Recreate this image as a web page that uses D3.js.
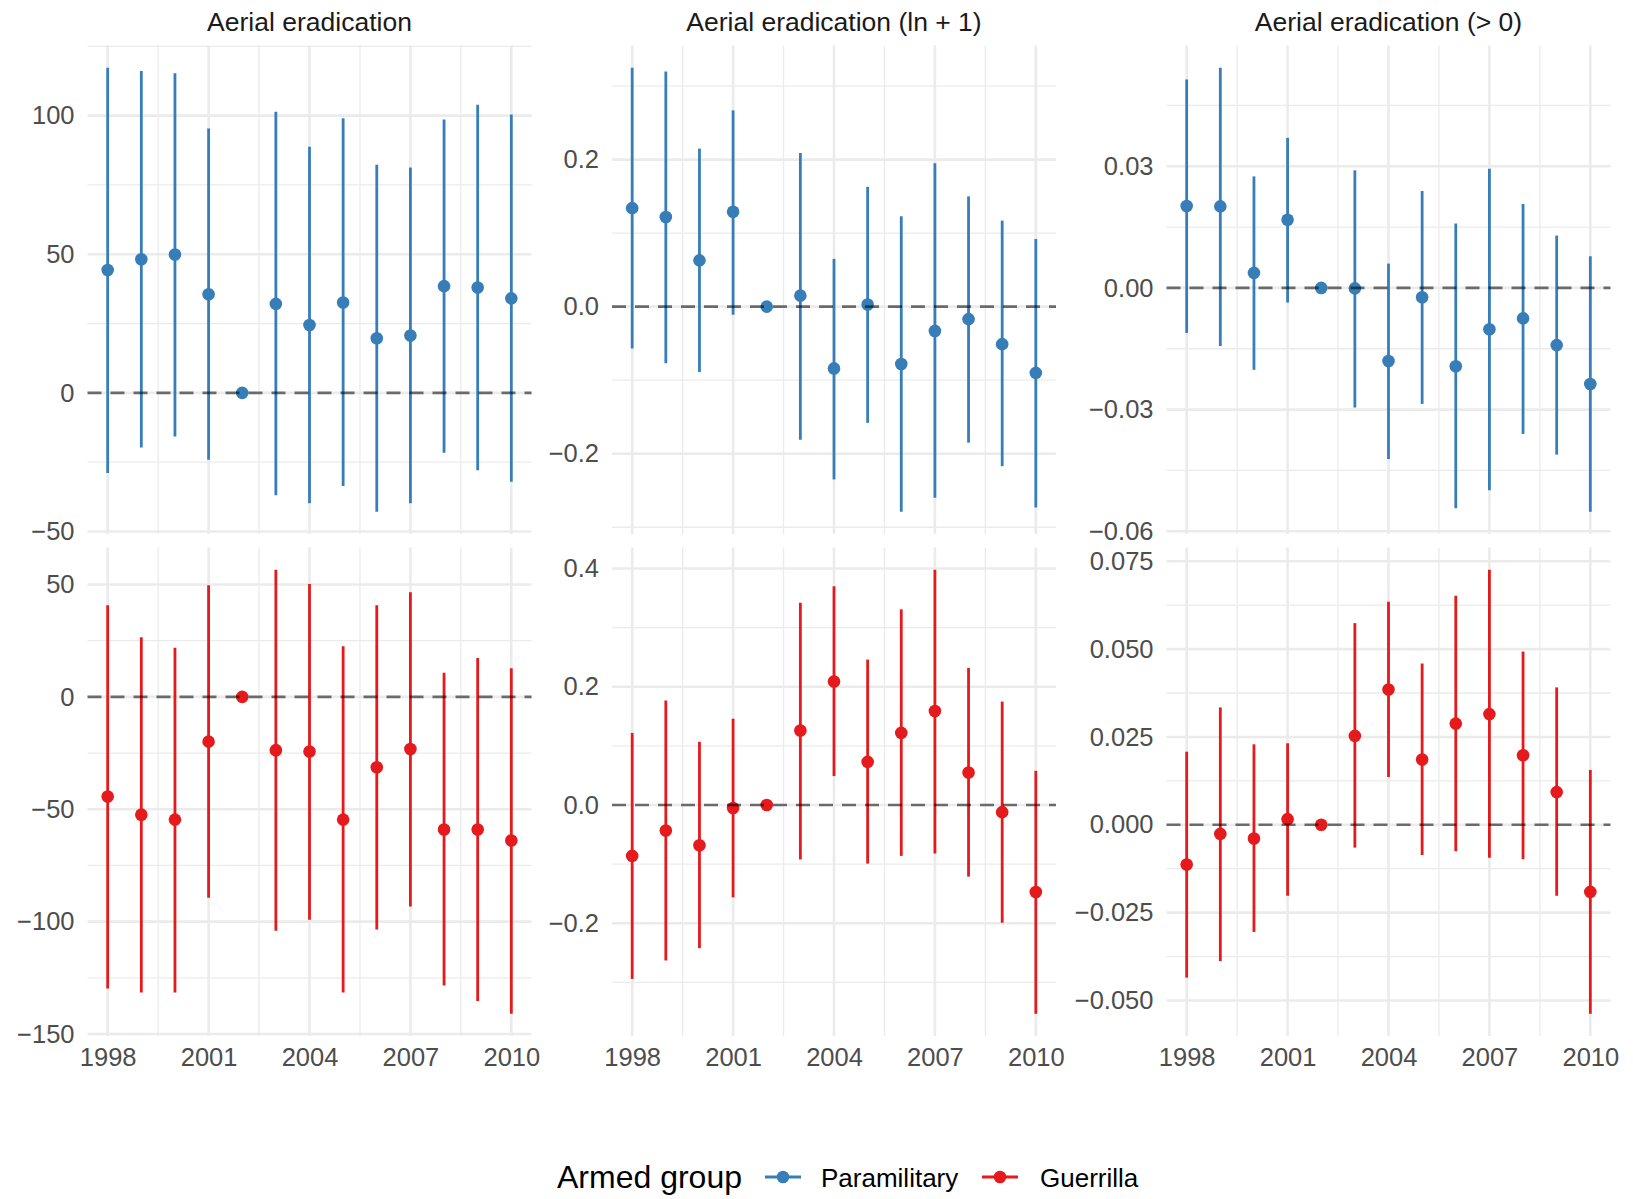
<!DOCTYPE html>
<html>
<head>
<meta charset="utf-8">
<script src="https://cdn.jsdelivr.net/npm/d3@7"></script>
<style>
  body { margin: 0; background: #fff; }
  text { font-family: "Liberation Sans", Arial, sans-serif; }
</style>
</head>
<body>
<svg id="chart" width="1633" height="1199"></svg>
<script>
var years = [1998, 1999, 2000, 2001, 2002, 2003, 2004, 2005, 2006, 2007, 2008, 2009, 2010];
var xTicks = [1998, 2001, 2004, 2007, 2010];
var outcomes = ["Aerial eradication", "Aerial eradication (ln + 1)", "Aerial eradication (> 0)"];
var groups = ["Paramilitary", "Guerrilla"];
var groupColors = ["#377eb8", "#e41a1c"];

// Paramilitary, levels
var paraLevEst = [44.3, 48.2, 49.9, 35.6, 0, 32.1, 24.5, 32.6, 19.7, 20.7, 38.5, 38.0, 34.1];
var paraLevLo  = [-28.9, -19.7, -15.7, -24.1, 0, -36.9, -39.8, -33.6, -42.9, -39.8, -21.6, -27.9, -32.1];
var paraLevHi  = [117.3, 116.1, 115.3, 95.4, 0, 101.4, 88.8, 99.1, 82.3, 81.3, 98.6, 103.9, 100.4];
// Paramilitary, ln + 1
var paraLnEst = [0.134, 0.122, 0.063, 0.129, 0, 0.015, -0.084, 0.003, -0.078, -0.033, -0.017, -0.051, -0.090];
var paraLnLo  = [-0.057, -0.077, -0.089, -0.011, 0, -0.181, -0.235, -0.158, -0.279, -0.260, -0.185, -0.217, -0.273];
var paraLnHi  = [0.325, 0.320, 0.215, 0.267, 0, 0.209, 0.065, 0.163, 0.123, 0.195, 0.150, 0.117, 0.092];
// Paramilitary, > 0
var paraAnyEst = [0.0202, 0.0201, 0.0037, 0.0168, 0, -0.0001, -0.0180, -0.0023, -0.0193, -0.0102, -0.0075, -0.0141, -0.0237];
var paraAnyLo  = [-0.0111, -0.0143, -0.0202, -0.0036, 0, -0.0295, -0.0422, -0.0286, -0.0543, -0.0499, -0.0360, -0.0411, -0.0552];
var paraAnyHi  = [0.0514, 0.0543, 0.0275, 0.0370, 0, 0.0290, 0.0060, 0.0239, 0.0159, 0.0294, 0.0207, 0.0129, 0.0078];

// Guerrilla, levels
var guerLevEst = [-44.3, -52.4, -54.6, -19.9, 0, -23.7, -24.3, -54.6, -31.3, -23.2, -59.0, -59.0, -63.9];
var guerLevLo  = [-129.7, -131.5, -131.5, -89.4, 0, -104.0, -99.1, -131.5, -103.5, -93.3, -128.4, -135.3, -141.0];
var guerLevHi  = [40.8, 26.5, 21.9, 49.7, 0, 56.6, 50.2, 22.5, 40.8, 46.6, 10.7, 17.3, 12.7];
// Guerrilla, ln + 1
var guerLnEst = [-0.086, -0.043, -0.068, -0.005, 0, 0.126, 0.209, 0.073, 0.122, 0.159, 0.055, -0.012, -0.147];
var guerLnLo  = [-0.294, -0.263, -0.242, -0.156, 0, -0.092, 0.049, -0.099, -0.086, -0.082, -0.121, -0.199, -0.353];
var guerLnHi  = [0.122, 0.177, 0.107, 0.146, 0, 0.342, 0.370, 0.246, 0.331, 0.398, 0.232, 0.175, 0.058];
// Guerrilla, > 0
var guerAnyEst = [-0.0113, -0.0026, -0.0039, 0.0016, 0, 0.0253, 0.0385, 0.0186, 0.0288, 0.0315, 0.0198, 0.0093, -0.0191];
var guerAnyLo  = [-0.0435, -0.0388, -0.0305, -0.0202, 0, -0.0065, 0.0136, -0.0086, -0.0075, -0.0094, -0.0098, -0.0202, -0.0538];
var guerAnyHi  = [0.0208, 0.0334, 0.0229, 0.0232, 0, 0.0574, 0.0635, 0.0459, 0.0652, 0.0726, 0.0493, 0.0391, 0.0156];

// y tick labels per panel (row-major: paramilitary row, then guerrilla row)
var yTicks = [
  [-50, 0, 50, 100], [-0.2, 0, 0.2], [-0.06, -0.03, 0, 0.03],
  [-150, -100, -50, 0, 50], [-0.2, 0, 0.2, 0.4], [-0.05, -0.025, 0, 0.025, 0.05, 0.075]
];
var yDecimals = [0, 1, 2, 0, 1, 3];

var panelData = [
  [paraLevEst, paraLevLo, paraLevHi], [paraLnEst, paraLnLo, paraLnHi], [paraAnyEst, paraAnyLo, paraAnyHi],
  [guerLevEst, guerLevLo, guerLevHi], [guerLnEst, guerLnLo, guerLnHi], [guerAnyEst, guerAnyLo, guerAnyHi]
];

var svg = d3.select("#chart");
var colLeft = [87.5, 612, 1166.5], panelW = 444;
var rowTop = [45.5, 547.5], rowH = [488.5, 488.5];

var xDom = [years[0] - 0.05 * (years[years.length - 1] - years[0]), years[years.length - 1] + 0.05 * (years[years.length - 1] - years[0])];

function minorsOf(ticks, dom) {
  var step = ticks[1] - ticks[0], out = [];
  for (var i = -1; i < ticks.length; i++) {
    var v = ticks[0] + (i + 0.5) * step;
    if (v >= dom[0] && v <= dom[1]) out.push(v);
  }
  return out;
}

panelData.forEach(function(pd, k) {
  var row = Math.floor(k / 3), col = k % 3;
  var est = pd[0], lo = pd[1], hi = pd[2];
  var rows = years.map(function(y, i) { return {year: y, est: est[i], lo: lo[i], hi: hi[i]}; });

  var lo0 = d3.min(lo), hi0 = d3.max(hi), pad = 0.05 * (hi0 - lo0);
  var yDom = [lo0 - pad, hi0 + pad];

  var x = d3.scaleLinear().domain(xDom).range([0, panelW]);
  var y = d3.scaleLinear().domain(yDom).range([rowH[row], 0]);

  var g = svg.append("g")
      .attr("transform", "translate(" + colLeft[col] + "," + rowTop[row] + ")");

  var ticks = yTicks[k];
  var xMinor = minorsOf(xTicks, xDom);
  var yMinor = minorsOf(ticks, yDom);

  // grid
  g.selectAll(".ymin").data(yMinor).enter().append("line")
      .attr("x1", 0).attr("x2", panelW)
      .attr("y1", function(d) { return y(d); }).attr("y2", function(d) { return y(d); })
      .attr("stroke", "#ebebeb").attr("stroke-width", 1.3);
  g.selectAll(".xmin").data(xMinor).enter().append("line")
      .attr("y1", 0).attr("y2", rowH[row])
      .attr("x1", function(d) { return x(d); }).attr("x2", function(d) { return x(d); })
      .attr("stroke", "#ebebeb").attr("stroke-width", 1.3);
  g.selectAll(".ymaj").data(ticks).enter().append("line")
      .attr("x1", 0).attr("x2", panelW)
      .attr("y1", function(d) { return y(d); }).attr("y2", function(d) { return y(d); })
      .attr("stroke", "#ebebeb").attr("stroke-width", 2.6);
  g.selectAll(".xmaj").data(xTicks).enter().append("line")
      .attr("y1", 0).attr("y2", rowH[row])
      .attr("x1", function(d) { return x(d); }).attr("x2", function(d) { return x(d); })
      .attr("stroke", "#ebebeb").attr("stroke-width", 2.6);

  // y axis labels
  var fmt = d3.format("." + yDecimals[k] + "f");
  var yAxis = d3.axisLeft(y).tickValues(ticks).tickSize(0).tickPadding(13).tickFormat(fmt);
  var ya = g.append("g").call(yAxis);
  ya.select(".domain").remove();
  ya.selectAll("text").attr("font-size", 25.5).attr("fill", "#4d4d4d")
      .attr("font-family", "'Liberation Sans', Arial, sans-serif");

  // x axis labels only on bottom row
  if (row === 1) {
    var xAxis = d3.axisBottom(x).tickValues(xTicks).tickSize(0).tickPadding(12).tickFormat(d3.format("d"));
    var xa = g.append("g").attr("transform", "translate(0," + rowH[row] + ")").call(xAxis);
    xa.select(".domain").remove();
    xa.selectAll("text").attr("font-size", 25.5).attr("fill", "#4d4d4d")
        .attr("font-family", "'Liberation Sans', Arial, sans-serif");
  }

  // strip titles on top row
  if (row === 0) {
    svg.append("text")
        .attr("x", colLeft[col] + panelW / 2).attr("y", 31)
        .attr("text-anchor", "middle")
        .attr("font-size", 26.5).attr("fill", "#1a1a1a")
        .text(outcomes[col]);
  }

  var color = groupColors[row];

  // error bars
  g.selectAll(".bar").data(rows.filter(function(d) { return d.hi !== d.lo; })).enter().append("line")
      .attr("x1", function(d) { return x(d.year); }).attr("x2", function(d) { return x(d.year); })
      .attr("y1", function(d) { return y(d.lo); }).attr("y2", function(d) { return y(d.hi); })
      .attr("stroke", color).attr("stroke-width", 2.8);

  // points
  g.selectAll(".pt").data(rows).enter().append("circle")
      .attr("cx", function(d) { return x(d.year); })
      .attr("cy", function(d) { return y(d.est); })
      .attr("r", 6.3)
      .attr("fill", color);

  // reference line at zero
  g.append("line")
      .attr("x1", 0).attr("x2", panelW)
      .attr("y1", y(0)).attr("y2", y(0))
      .attr("stroke", "#000").attr("stroke-opacity", 0.55)
      .attr("stroke-width", 2.6).attr("stroke-dasharray", "14,9");
});

// legend
var legend = svg.append("g");
legend.append("text")
    .attr("x", 557).attr("y", 1188)
    .attr("font-size", 32).attr("fill", "#000")
    .text("Armed group");

var keyX = [765, 982], labelX = [821, 1040];
groups.forEach(function(name, i) {
  legend.append("line")
      .attr("x1", keyX[i]).attr("x2", keyX[i] + 36)
      .attr("y1", 1177).attr("y2", 1177)
      .attr("stroke", groupColors[i]).attr("stroke-width", 2.8);
  legend.append("circle")
      .attr("cx", keyX[i] + 18).attr("cy", 1177).attr("r", 6.3)
      .attr("fill", groupColors[i]);
  legend.append("text")
      .attr("x", labelX[i]).attr("y", 1186.5)
      .attr("font-size", 26).attr("fill", "#000")
      .text(name);
});
</script>
</body>
</html>
